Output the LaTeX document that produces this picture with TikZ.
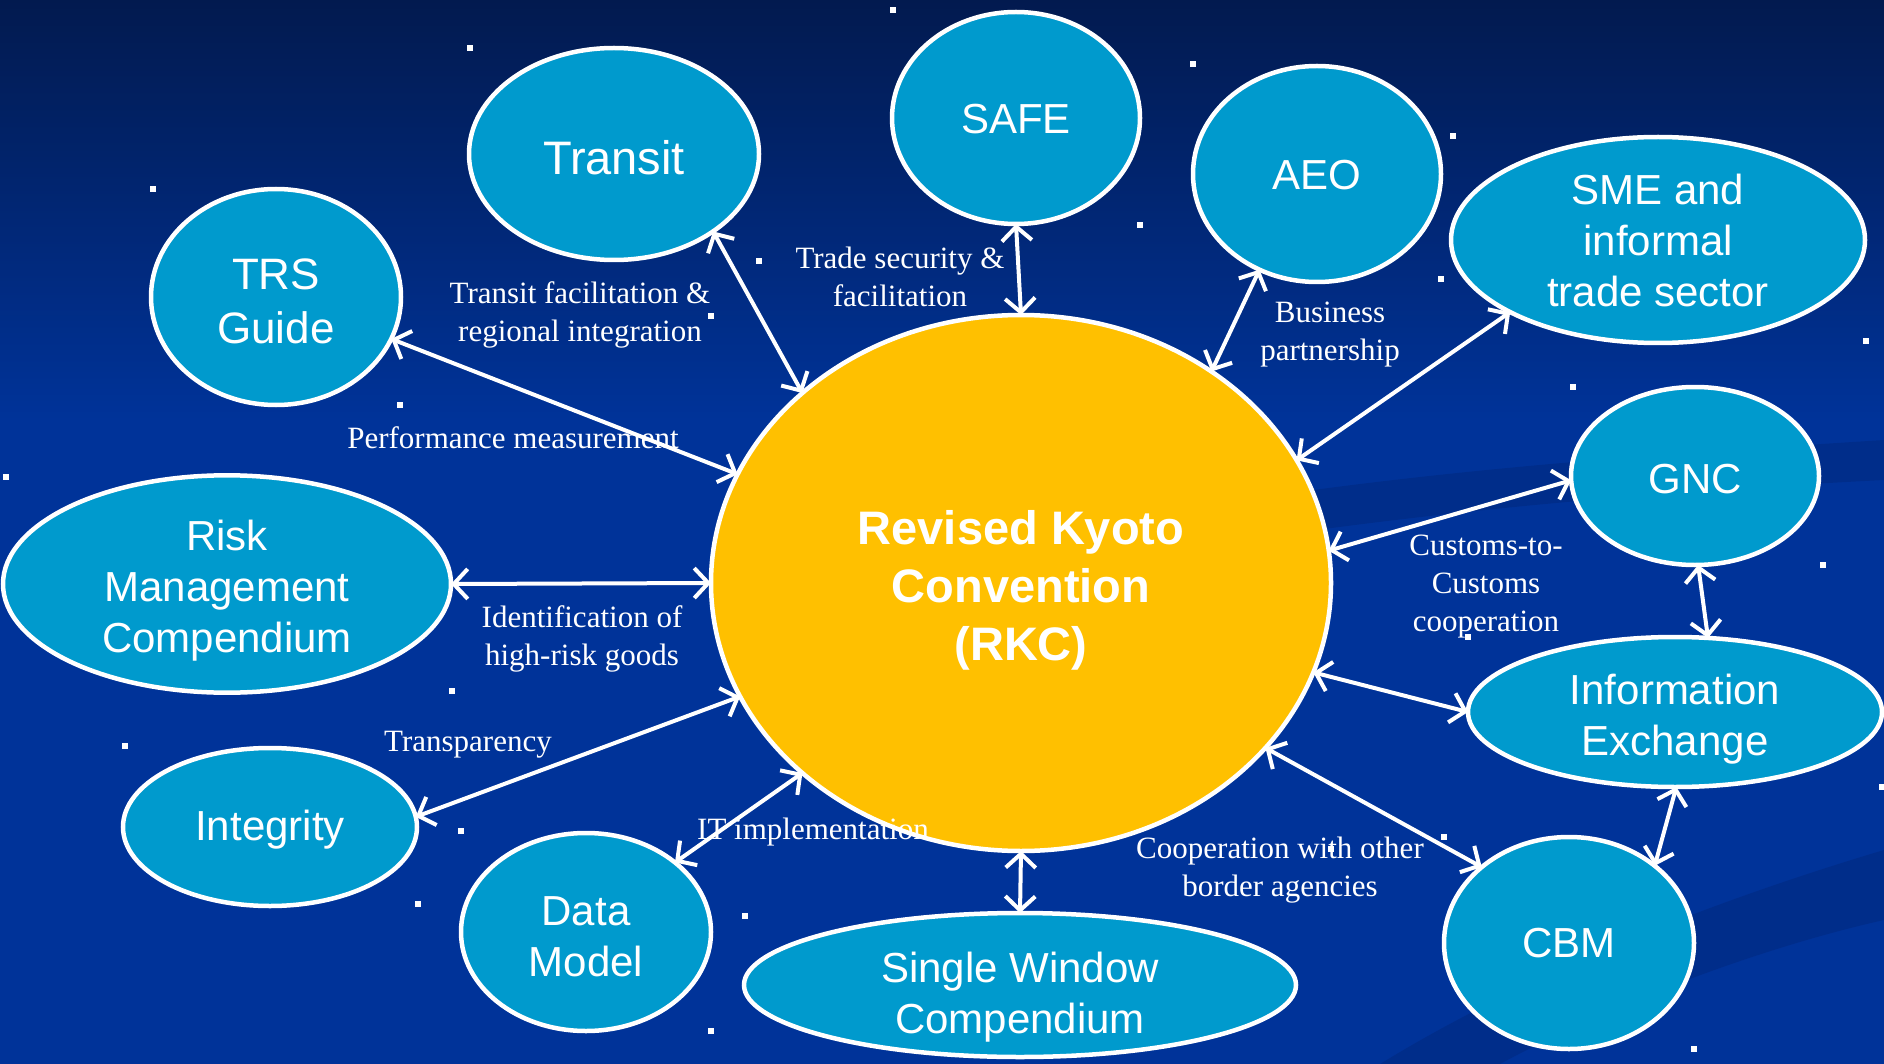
\documentclass[tikz,border=0pt]{standalone}
\usepackage{fontspec}
\setmainfont{Liberation Serif}
\setsansfont{Liberation Sans}
\usetikzlibrary{shapes.geometric,arrows.meta}
\definecolor{bgtop}{HTML}{021A4F}
\definecolor{bgbot}{HTML}{003399}
\definecolor{swoosh}{HTML}{012B85}
\definecolor{nodeblue}{HTML}{009ACD}
\definecolor{rkcgold}{HTML}{FFC000}
\newcommand{\dn}[1]{\rule{0pt}{#1pt}}
\begin{document}
\begin{tikzpicture}[x=1pt,y=-1pt,
  bub/.style={ellipse, draw=white, line width=4.5pt, fill=nodeblue, inner sep=0pt, outer sep=0pt,
    text=white, align=center, font=\sffamily\fontsize{42}{51}\selectfont},
  bubtext/.style={text=white, align=center, inner sep=0pt, font=\sffamily\fontsize{42}{51}\selectfont},
  lab/.style={text=white, align=center, font=\fontsize{31}{38}\selectfont, inner sep=0pt},
  link/.style={draw=white, line width=4pt,
    {Straight Barb[length=14pt,width=30pt]}-{Straight Barb[length=14pt,width=30pt]}},
  star/.style={fill=white}]
% background
\fill[bgbot] (0,0) rectangle (1884,1064);
\shade[top color=bgtop, bottom color=bgbot] (0,0) rectangle (1884,420);
\useasboundingbox (0,0) rectangle (1884,1064);
% faint swooshes
\fill[swoosh, opacity=0.7] (1120,520) .. controls (1400,470) and (1650,455) .. (1884,440) -- (1884,480) .. controls (1650,492) and (1400,512) .. (1120,560) -- cycle;
\fill[swoosh, opacity=0.7] (1380,1064) .. controls (1550,960) and (1750,890) .. (1884,850) -- (1884,920) .. controls (1750,950) and (1600,1010) .. (1500,1064) -- cycle;
% stars
\foreach \x/\y in {470/48, 893/10, 1193/64, 153/189, 759/261, 1140/225, 1453/136, 1441/279,
  711/316, 400/405, 1573/387, 1866/341, 6/477, 1823/565, 452/691, 1468/637, 125/746,
  461/831, 1444/837, 418/904, 1331/849, 745/916, 1882/787, 711/1031, 1694/1049}
  \fill[star] (\x-3,\y-3) rectangle (\x+3,\y+3);
% nodes
\node[bub, minimum width=290, minimum height=212, font=\sffamily\fontsize{47}{55}\selectfont] (transit) at (614,154) {\dn{41}Transit};
\node[bub, minimum width=248, minimum height=212] (safe) at (1016,118) {\dn{32}SAFE};
\node[bub, minimum width=248, minimum height=216] (aeo) at (1317,174) {\dn{32}AEO};
\node[bub, minimum width=414, minimum height=206] (sme) at (1658,240) {SME and\\informal\\trade sector};
\node[bub, minimum width=250, minimum height=216, font=\sffamily\fontsize{44}{54}\selectfont] (trs) at (276,297) {\dn{40}TRS\\Guide};
\node[bub, minimum width=248, minimum height=178] (gnc) at (1695,476) {\dn{35}GNC};
\node[bub, minimum width=448, minimum height=216] (risk) at (227,584) {\dn{43}Risk\\Management\\Compendium};
\node[bub, minimum width=414, minimum height=150] (info) at (1675,712) {\dn{45}Information\\Exchange};
\node[bub, minimum width=294, minimum height=158] (integ) at (270,827) {\dn{36}Integrity};
\node[bub, minimum width=250, minimum height=198] (data) at (586,932) {\dn{39}Data\\Model};
\node[bub, minimum width=552, minimum height=144] (sw) at (1020,985) {};
\node[bubtext] (swt) at (1020,997) {Single Window\\Compendium};
\node[bub, minimum width=250, minimum height=212] (cbm) at (1569,943) {CBM};
\node[bub, fill=rkcgold, minimum width=620, minimum height=536,
  font=\sffamily\bfseries\fontsize{47}{58}\selectfont] (rkc) at (1021,583) {\dn{48}Revised Kyoto\\Convention\\(RKC)};
% connectors
\draw[link] (trs.-20) -- (rkc.159);
\draw[link] (transit.-38) -- (rkc.139);
\draw[link] (safe.-90) -- (rkc.90);
\draw[link] (aeo.-121) -- (rkc.48);
\draw[link] (sme.-154) -- (rkc.24);
\draw[link] (gnc.182) -- (rkc.6);
\draw[link] (gnc.-88) -- (info.66);
\draw[link] (rkc.-17) -- (info.180);
\draw[link] (info.-89) -- (cbm.42);
\draw[link] (rkc.-34) -- (cbm.139);
\draw[link] (rkc.-90) -- (sw.90);
\draw[link] (rkc.-139) -- (data.38);
\draw[link] (rkc.-158) -- (integ.4);
\draw[link] (rkc.180) -- (risk.0);
% labels
\node[lab] (l1) at (580,315) {Transit facilitation \&\\regional integration};
\node[lab] (l2) at (900,276.5) {Trade security \&\\facilitation};
\node[lab] (l3) at (1330,335) {Business\\partnership};
\node[lab] (l4) at (513,437.5) {Performance measurement};
\node[lab] (l5) at (1486,587) {Customs-to-\\Customs\\cooperation};
\node[lab] (l6) at (582,639) {Identification of\\high-risk goods};
\node[lab] (l7) at (468,745) {Transparency};
\node[lab] (l8) at (813,832) {IT implementation};
\node[lab] (l9) at (1280,870) {Cooperation with other\\border agencies};
\end{tikzpicture}
\end{document}
